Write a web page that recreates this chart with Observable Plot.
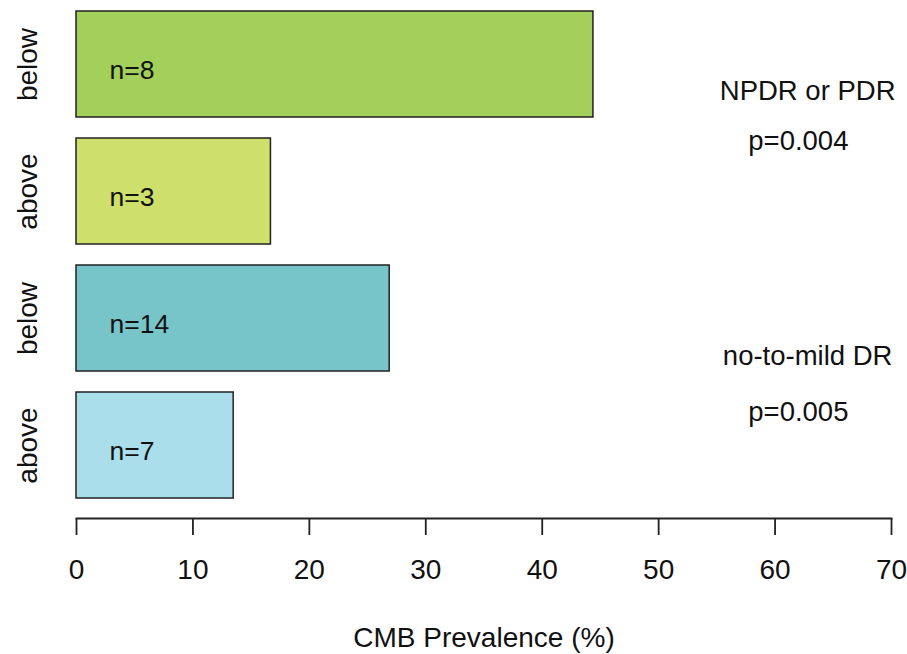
<!DOCTYPE html>
<html>
<head>
<meta charset="utf-8">
<script src="https://cdn.jsdelivr.net/npm/d3@7"></script>
<script src="https://cdn.jsdelivr.net/npm/@observablehq/plot@0.6"></script>
<style>
  html, body { margin: 0; padding: 0; background: #fff; }
  #chart svg { display: block; }
</style>
</head>
<body>
<div id="chart"></div>
<script>
// Data
const groups = ["NPDR or PDR", "NPDR or PDR", "no-to-mild DR", "no-to-mild DR"];
const levels = ["below", "above", "below", "above"];
const prevalence = [44.4, 16.7, 26.9, 13.5];
const counts = ["n=8", "n=3", "n=14", "n=7"];
const barColors = ["#a3cf5b", "#cedf6c", "#78c5c9", "#a9deea"];
const pLabels = ["p=0.004", "p=0.005"];
const xTicks = [0, 10, 20, 30, 40, 50, 60, 70];

const rows = groups.map((g, i) => ({
  key: g + "|" + levels[i],
  group: g,
  level: levels[i],
  value: prevalence[i],
  n: counts[i],
  color: barColors[i]
}));
const keys = rows.map(d => d.key);

const font = "'Liberation Sans', Arial, Helvetica, sans-serif";
const fs = 27.5;

const chart = Plot.plot({
  width: 907,
  height: 654,
  marginLeft: 76,
  marginRight: 16,
  marginTop: 10,
  marginBottom: 136,
  style: { fontFamily: font, fontSize: fs + "px", color: "#111", background: "#fff" },
  x: { domain: [0, 70], ticks: xTicks, label: "CMB Prevalence (%)" },
  y: { domain: keys, range: [10, 498], paddingInner: 0.167, paddingOuter: 0 },
  marks: [
    Plot.barX(rows, { x: "value", y: "key", fill: "color", stroke: "#222", strokeWidth: 1.5 }),
    Plot.text(rows, { x: 0, y: "key", text: "n", textAnchor: "start", dx: 33, dy: 6, fill: "#111", fontSize: fs - 1 }),
    Plot.text([rows[1]], { x: 62.8, y: "key", text: "group", dy: -100, fill: "#111", fontSize: fs }),
    Plot.text([rows[1]], { x: 62.0, y: "key", text: d => pLabels[0], dy: -50, fill: "#111", fontSize: fs }),
    Plot.text([rows[3]], { x: 62.8, y: "key", text: "group", dy: -89, fill: "#111", fontSize: fs }),
    Plot.text([rows[3]], { x: 62.0, y: "key", text: d => pLabels[1], dy: -33, fill: "#111", fontSize: fs }),
    Plot.frame({ anchor: "bottom", stroke: "#222", strokeWidth: 1.8 }),
    Plot.axisX({ ticks: xTicks, tickSize: 17, tickPadding: 24, strokeWidth: 1.8, stroke: "#222",
      label: "CMB Prevalence (%)", labelAnchor: "center", labelArrow: "none", labelOffset: 128, fontSize: 28 }),
    Plot.axisY({ tickSize: 0, tickRotate: -90, tickPadding: 40, tickFormat: k => k.split("|")[1], label: null, fontSize: 28 })
  ]
});
document.getElementById("chart").appendChild(chart);
</script>
</body>
</html>
